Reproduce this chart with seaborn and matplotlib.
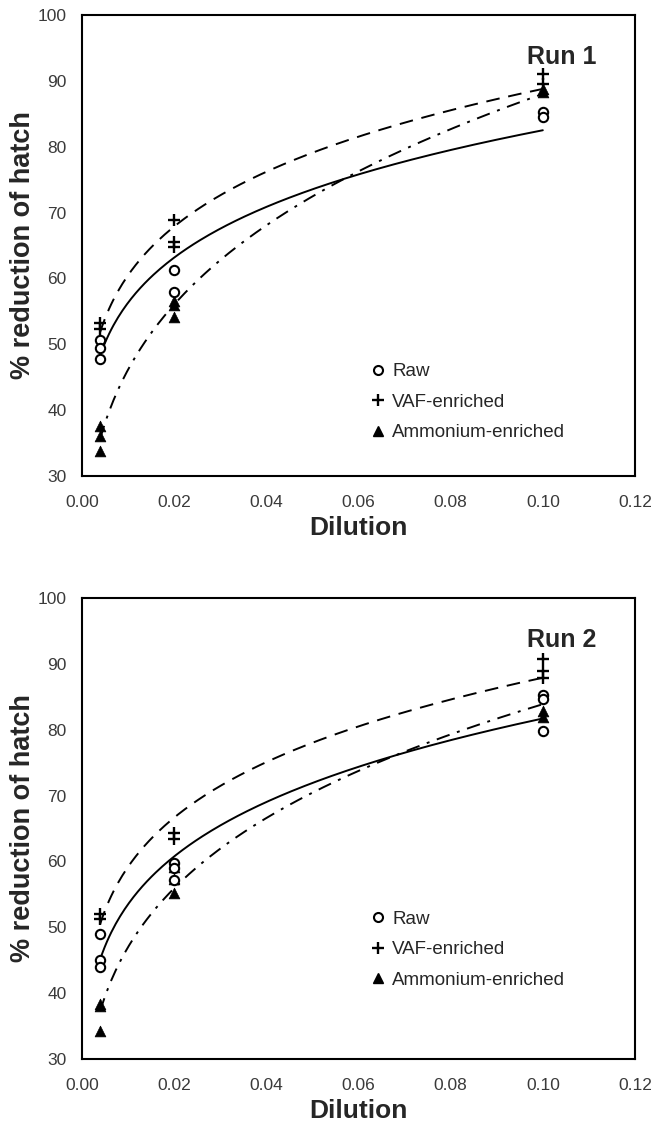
import numpy as np
import pandas as pd
import matplotlib
matplotlib.use('Agg')
import matplotlib.pyplot as plt
import seaborn as sns
from matplotlib.lines import Line2D

sns.set_style('white')
plt.rcParams['font.family'] = ['Liberation Sans', 'DejaVu Sans']

# ---- data ----
# Run 1
raw_x1 = [0.004, 0.004, 0.004, 0.02, 0.02, 0.1, 0.1]
raw_y1 = [50.6, 49.4, 47.8, 61.3, 58.0, 85.3, 84.5]
vaf_x1 = [0.004, 0.004, 0.02, 0.02, 0.02, 0.1, 0.1]
vaf_y1 = [53.2, 52.3, 68.8, 65.6, 64.7, 91.0, 89.6]
amm_x1 = [0.004, 0.004, 0.004, 0.02, 0.02, 0.02, 0.1, 0.1]
amm_y1 = [37.6, 36.0, 33.8, 56.6, 56.0, 54.2, 88.7, 88.3]

# Run 2
raw_x2 = [0.004, 0.004, 0.004, 0.02, 0.02, 0.02, 0.1, 0.1, 0.1]
raw_y2 = [49.0, 45.0, 44.0, 59.7, 59.0, 57.2, 85.2, 84.6, 79.8]
vaf_x2 = [0.004, 0.004, 0.02, 0.02, 0.1, 0.1, 0.1]
vaf_y2 = [52.0, 51.2, 64.3, 63.4, 90.8, 88.9, 87.8]
amm_x2 = [0.004, 0.004, 0.004, 0.02, 0.02, 0.02, 0.1, 0.1]
amm_y2 = [38.4, 38.0, 34.2, 59.2, 57.4, 55.2, 82.8, 82.0]

groups = ['Raw', 'VAF-enriched', 'Ammonium-enriched']
runs = ['Run 1', 'Run 2']

rows = []
for run, sets in zip(runs, [[(raw_x1, raw_y1), (vaf_x1, vaf_y1), (amm_x1, amm_y1)],
                            [(raw_x2, raw_y2), (vaf_x2, vaf_y2), (amm_x2, amm_y2)]]):
    for g, (xs, ys) in zip(groups, sets):
        for xv, yv in zip(xs, ys):
            rows.append({'run': run, 'group': g, 'Dilution': xv, 'value': yv})
df = pd.DataFrame(rows)

marker_style = {
    'Raw': dict(marker='o', s=45, facecolor='white', edgecolor='black', linewidth=1.5),
    'VAF-enriched': dict(marker='+', s=70, color='black', linewidth=1.7),
    'Ammonium-enriched': dict(marker='^', s=60, color='black', edgecolor='black', linewidth=0.5),
}
line_dash = {'Raw': None, 'VAF-enriched': [7, 4.5], 'Ammonium-enriched': [7, 4, 1.5, 4]}

fig = plt.figure(figsize=(6.54, 11.29), dpi=100)
ax1 = fig.add_axes([0.125, 0.5784, 0.846, 0.4083])
ax2 = fig.add_axes([0.125, 0.0620, 0.846, 0.4083])
legend_pos = {'Run 1': (0.522, 0.245), 'Run 2': (0.522, 0.322)}

for ax, run in zip([ax1, ax2], runs):
    sub = df[df['run'] == run]
    # power trendlines (y = a * x^b) fitted to the points
    for g in groups:
        gd = sub[sub['group'] == g]
        b, ln_a = np.polyfit(np.log(gd['Dilution']), np.log(gd['value']), 1)
        xs = np.linspace(0.004, 0.1, 200)
        sns.lineplot(x=xs, y=np.exp(ln_a) * xs ** b, ax=ax, color='black', linewidth=1.4)
        if line_dash[g] is not None:
            ax.lines[-1].set_dashes(line_dash[g])
    for g in ['Ammonium-enriched', 'VAF-enriched', 'Raw']:
        gd = sub[sub['group'] == g]
        sns.scatterplot(x=gd['Dilution'], y=gd['value'], ax=ax, zorder=3, **marker_style[g])

    ax.set_xlim(0, 0.12)
    ax.set_ylim(30, 100)
    ax.set_xticks(np.arange(0, 0.121, 0.02))
    ax.set_yticks(np.arange(30, 101, 10))
    ax.set_xticklabels([f'{t:.2f}' for t in np.arange(0, 0.121, 0.02)])
    ax.tick_params(axis='both', direction='out', length=3, width=0.8, color='#aaaaaa',
                   labelsize=12.5, labelcolor='#3a3a3a')
    ax.tick_params(axis='x', pad=11)
    ax.tick_params(axis='y', pad=8)
    ax.set_xlabel('Dilution', fontsize=19, fontweight='bold', labelpad=4)
    ax.set_ylabel('% reduction of hatch', fontsize=19.5, fontweight='bold', labelpad=1)
    for sp in ax.spines.values():
        sp.set_color('black')
        sp.set_linewidth(1.5)
    ax.text(0.0966, 93.7, run, fontsize=18, fontweight='bold', ha='left', va='center')

    handles = [
        Line2D([], [], linestyle='none', marker='o', markersize=6.5, markerfacecolor='white',
               markeredgecolor='black', markeredgewidth=1.5),
        Line2D([], [], linestyle='none', marker='+', markersize=8, color='black', markeredgewidth=1.7),
        Line2D([], [], linestyle='none', marker='^', markersize=7.5, color='black'),
    ]
    ax.legend(handles, groups, loc='upper left', bbox_to_anchor=legend_pos[run], frameon=False,
              fontsize=13.5, labelspacing=0.72, handlelength=0.8, handletextpad=0.35,
              borderpad=0, borderaxespad=0)

fig.savefig('out.png', dpi=100)
